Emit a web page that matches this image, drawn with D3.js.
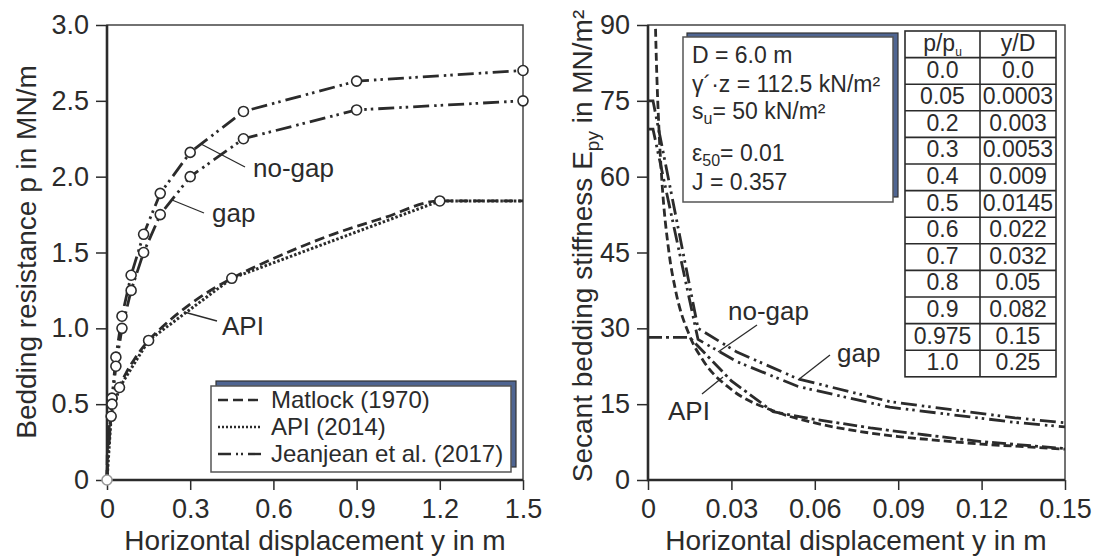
<!DOCTYPE html>
<html>
<head>
<meta charset="utf-8">
<script src="https://cdn.jsdelivr.net/npm/d3@7"></script>
<style>
  body { margin: 0; background: #fff; }
  svg text { font-family: "Liberation Sans", Arial, sans-serif; fill: #2b2b2b; }
</style>
</head>
<body>
<svg id="chart" width="1094" height="556"></svg>
<script>
// ---- data ----
// table shown in the right panel (Jeanjean et al. 2017)
const tableRatio = ["0.0", "0.05", "0.2", "0.3", "0.4", "0.5", "0.6", "0.7", "0.8", "0.9", "0.975", "1.0"];
const tableYD = ["0.0", "0.0003", "0.003", "0.0053", "0.009", "0.0145", "0.022", "0.032", "0.05", "0.082", "0.15", "0.25"];

// left panel: p-y curves (y in m, p in MN/m)
const jjY = [0, 0.0018, 0.018, 0.032, 0.054, 0.087, 0.132, 0.192, 0.3, 0.492, 0.9, 1.5];
const jjNoGapP = [0, 0.135, 0.54, 0.81, 1.08, 1.35, 1.62, 1.89, 2.16, 2.43, 2.63, 2.7];
const jjGapP = [0, 0.125, 0.5, 0.75, 1.0, 1.25, 1.5, 1.75, 2.0, 2.25, 2.44, 2.5];
const apiY = [0, 0.015, 0.045, 0.15, 0.45, 1.2, 1.5];
const apiP = [0, 0.42, 0.61, 0.92, 1.33, 1.84, 1.84];
const matlockY = [0, 0.001, 0.005, 0.01, 0.02, 0.04, 0.07, 0.1, 0.15, 0.2, 0.3, 0.45, 0.6, 0.8, 1.0, 1.2, 1.5];
const matlockP = [0, 0.17, 0.30, 0.37, 0.47, 0.59, 0.71, 0.80, 0.92, 1.01, 1.16, 1.33, 1.46, 1.61, 1.73, 1.84, 1.84];

// right panel: secant stiffness E_py (MN/m²)
const secJjY = [0, 0.0018, 0.018, 0.032, 0.054, 0.087, 0.132, 0.15];
const secJjNoGap = [75, 75, 30, 25.3, 20, 15.5, 12.3, 11.3];
const secJjGap = [69.4, 69.4, 27.8, 23.4, 18.5, 14.4, 11.4, 10.5];
const secApiY = [0, 0.015, 0.03, 0.045, 0.06, 0.08, 0.1, 0.12, 0.15];
const secApi = [28.2, 28.2, 19.6, 13.5, 12.0, 10.3, 8.9, 7.6, 6.2];
const secMatlockY = [0.0025, 0.003, 0.004, 0.005, 0.0075, 0.01, 0.015, 0.02, 0.03, 0.045, 0.06, 0.075, 0.09, 0.105, 0.12, 0.135, 0.15];
const secMatlock = [94, 83.2, 68.7, 59.2, 45.2, 37.3, 28.5, 23.5, 17.9, 13.7, 11.3, 9.7, 8.6, 7.8, 7.1, 6.6, 6.1];

const leftXTicks = [0, 0.3, 0.6, 0.9, 1.2, 1.5];
const leftYTicks = [0, 0.5, 1.0, 1.5, 2.0, 2.5, 3.0];
const rightXTicks = [0, 0.03, 0.06, 0.09, 0.12, 0.15];
const rightYTicks = [0, 15, 30, 45, 60, 75, 90];

const legendNames = ["Matlock (1970)", "API (2014)", "Jeanjean et al. (2017)"];

// ---- styles ----
const ink = "#2b2b2b";
const dashMatlock = "10,5";
const dashApi = "2.5,2";
const dashJj = "16,5,2.5,4,2.5,5";
const dashApiRight = "14,4,3,4";

const svg = d3.select("#chart");
svg.append("rect").attr("width", 1094).attr("height", 556).attr("fill", "#fff");

let x1 = d3.scaleLinear().domain([0, 1.5]).range([107, 523]);
let y1 = d3.scaleLinear().domain([0, 3]).range([480, 25]);
let x2 = d3.scaleLinear().domain([0, 0.15]).range([648, 1065]);
let y2 = d3.scaleLinear().domain([0, 90]).range([480, 25]);

function drawFrame(x, y, xTicks, yTicks, xFmt, yFmt) {
  let g = svg.append("g");
  let bottom = y.range()[0], top = y.range()[1];
  let left = x.range()[0], right = x.range()[1];

  let ax = g.append("g")
    .attr("transform", `translate(0, ${bottom})`)
    .call(d3.axisBottom(x).tickValues(xTicks).tickFormat(xFmt).tickSize(10).tickPadding(9));
  let ay = g.append("g")
    .attr("transform", `translate(${left}, 0)`)
    .call(d3.axisLeft(y).tickValues(yTicks).tickFormat(yFmt).tickSize(11).tickPadding(7));
  [ax, ay].forEach(function(a) {
    a.select(".domain").remove();
    a.selectAll(".tick line").attr("stroke", ink).attr("stroke-width", 1.5);
    a.selectAll(".tick text").style("font-size", "27px").attr("fill", ink);
  });

  // thin top/right, heavier left/bottom
  g.append("rect")
    .attr("x", left).attr("y", top)
    .attr("width", right - left).attr("height", bottom - top)
    .attr("fill", "none").attr("stroke", "#444").attr("stroke-width", 1.5);
  g.append("path")
    .attr("d", `M${left},${top}V${bottom}H${right}`)
    .attr("fill", "none").attr("stroke", ink).attr("stroke-width", 2.6);
}

let fmtLeft = function(d) { return d === 0 ? "0" : d3.format(".1f")(d); };
drawFrame(x1, y1, leftXTicks, leftYTicks, fmtLeft, fmtLeft);
drawFrame(x2, y2, rightXTicks, rightYTicks,
  function(d) { return d === 0 ? "0" : d3.format(".2f")(d); },
  d3.format("d"));

function addLine(g, xs, ys, x, y, dash, curve, width) {
  g.append("path")
    .datum(d3.zip(xs, ys))
    .attr("d", d3.line()
      .x(function(d) { return x(d[0]); })
      .y(function(d) { return y(d[1]); })
      .curve(curve || d3.curveLinear))
    .attr("fill", "none")
    .attr("stroke", ink)
    .attr("stroke-width", width || 2.8)
    .attr("stroke-dasharray", dash);
}

// ---- left panel ----
let leftG = svg.append("g");
addLine(leftG, matlockY, matlockP, x1, y1, dashMatlock, d3.curveMonotoneX);
addLine(leftG, apiY, apiP, x1, y1, dashApi, d3.curveLinear, 3);
addLine(leftG, jjY, jjNoGapP, x1, y1, dashJj);
addLine(leftG, jjY, jjGapP, x1, y1, dashJj);

// markers
function addMarkers(xs, ys, skip) {
  leftG.selectAll(null)
    .data(d3.zip(xs, ys).slice(skip))
    .enter().append("circle")
    .attr("cx", function(d) { return x1(d[0]); })
    .attr("cy", function(d) { return y1(d[1]); })
    .attr("r", 5)
    .attr("fill", "#fff")
    .attr("stroke", ink)
    .attr("stroke-width", 1.6);
}
addMarkers(jjY, jjNoGapP, 2);
addMarkers(jjY, jjGapP, 2);
addMarkers(apiY.slice(0, 6), apiP.slice(0, 6), 1);
leftG.append("circle")
  .attr("cx", x1(0)).attr("cy", y1(0)).attr("r", 5)
  .attr("fill", "#fff").attr("stroke", "#9a9a9a").attr("stroke-width", 1.6);

// annotations
function annotate(g, label, tx, ty, lx1, ly1, lx2, ly2) {
  g.append("line")
    .attr("x1", lx1).attr("y1", ly1).attr("x2", lx2).attr("y2", ly2)
    .attr("stroke", ink).attr("stroke-width", 1.3);
  g.append("text").attr("x", tx).attr("y", ty)
    .style("font-size", "26px").text(label);
}
annotate(leftG, "no-gap", 253, 177, 201, 144, 245, 167);
annotate(leftG, "gap", 212, 222, 172, 200, 204, 213);
annotate(leftG, "API", 222, 335, 184, 312, 217, 321);

// legend
let legend = svg.append("g");
legend.append("rect")
  .attr("x", 216).attr("y", 381).attr("width", 300).attr("height", 86)
  .attr("fill", "#4f6592").attr("stroke", "#333").attr("stroke-width", 1.2);
legend.append("rect")
  .attr("x", 211).attr("y", 386).attr("width", 300).attr("height", 86)
  .attr("fill", "#fff").attr("stroke", "#555").attr("stroke-width", 1.5);
let legendDash = [dashMatlock, "2,2", "13,5,2,3,2,5"];
legendNames.forEach(function(name, i) {
  let yy = 400 + i * 27;
  legend.append("line")
    .attr("x1", 218).attr("x2", 262).attr("y1", yy).attr("y2", yy)
    .attr("stroke", ink).attr("stroke-width", i === 1 ? 2.5 : 2.4)
    .attr("stroke-dasharray", legendDash[i]);
  legend.append("text")
    .attr("x", 271).attr("y", yy + 8)
    .style("font-size", "24px")
    .text(name);
});

// ---- right panel ----
svg.append("clipPath").attr("id", "clipR")
  .append("rect").attr("x", x2(0)).attr("y", y2(90))
  .attr("width", x2(0.15) - x2(0)).attr("height", y2(0) - y2(90));
let rightG = svg.append("g").attr("clip-path", "url(#clipR)");
addLine(rightG, secMatlockY, secMatlock, x2, y2, "8,4", d3.curveMonotoneX);
addLine(rightG, secApiY, secApi, x2, y2, dashApiRight);
addLine(rightG, secJjY, secJjNoGap, x2, y2, dashJj);
addLine(rightG, secJjY, secJjGap, x2, y2, dashJj);

let annR = svg.append("g");
annotate(annR, "no-gap", 728, 320, 757, 325, 718, 352);
annotate(annR, "gap", 837, 362, 830, 355, 798, 380);
annotate(annR, "API", 668, 420, 702, 394, 723, 377);

// info box
let info = svg.append("g");
info.append("rect")
  .attr("x", 687).attr("y", 33).attr("width", 211).attr("height", 164)
  .attr("fill", "#4f6592").attr("stroke", "#333").attr("stroke-width", 1.2);
info.append("rect")
  .attr("x", 683).attr("y", 37).attr("width", 210).attr("height", 165)
  .attr("fill", "#fff").attr("stroke", "#555").attr("stroke-width", 1.5);
let infoLines = [
  [["D = 6.0 m", 0]],
  [["\u03b3\u00b4\u00b7z = 112.5 kN/m\u00b2", 0]],
  [["s", 0], ["u", 1], ["= 50 kN/m\u00b2", 0]],
  [["\u03b5", 0], ["50", 1], ["= 0.01", 0]],
  [["J = 0.357", 0]]
];
let infoBase = [63, 92, 119, 161, 190];
infoLines.forEach(function(parts, i) {
  let t = info.append("text").attr("x", 692).attr("y", infoBase[i]).style("font-size", "23px");
  parts.forEach(function(p) {
    let s = t.append("tspan").text(p[0]);
    if (p[1]) s.attr("dy", 5).style("font-size", "16px");
    else if (parts.length > 1 && p !== parts[0]) s.attr("dy", -5);
  });
});

// table
let table = svg.append("g");
let colX = [905, 980, 1056];
let rowH = 26.6, tTop = 31;
let nRows = tableRatio.length + 1;
table.append("rect")
  .attr("x", colX[0]).attr("y", tTop)
  .attr("width", colX[2] - colX[0]).attr("height", rowH * nRows)
  .attr("fill", "#fff").attr("stroke", ink).attr("stroke-width", 1.6);
table.append("line")
  .attr("x1", colX[1]).attr("x2", colX[1])
  .attr("y1", tTop).attr("y2", tTop + rowH * nRows)
  .attr("stroke", ink).attr("stroke-width", 1.6);
d3.range(1, nRows).forEach(function(r) {
  table.append("line")
    .attr("x1", colX[0]).attr("x2", colX[2])
    .attr("y1", tTop + r * rowH).attr("y2", tTop + r * rowH)
    .attr("stroke", ink).attr("stroke-width", 1.6);
});
let head = table.append("text")
  .attr("x", (colX[0] + colX[1]) / 2).attr("y", tTop + 20)
  .attr("text-anchor", "middle").style("font-size", "23px");
head.append("tspan").text("p/p");
head.append("tspan").text("u").attr("dy", 5).style("font-size", "12px");
table.append("text")
  .attr("x", (colX[1] + colX[2]) / 2).attr("y", tTop + 20)
  .attr("text-anchor", "middle").style("font-size", "23px").text("y/D");
tableRatio.forEach(function(v, i) {
  let yy = tTop + (i + 1) * rowH + 20;
  table.append("text").attr("x", (colX[0] + colX[1]) / 2).attr("y", yy)
    .attr("text-anchor", "middle").style("font-size", "23px").text(v);
  table.append("text").attr("x", (colX[1] + colX[2]) / 2).attr("y", yy)
    .attr("text-anchor", "middle").style("font-size", "23px").text(tableYD[i]);
});

// ---- axis titles ----
svg.append("text")
  .attr("transform", "translate(36, 252) rotate(-90)")
  .attr("text-anchor", "middle").style("font-size", "28px")
  .text("Bedding resistance p in MN/m");
let rt = svg.append("text")
  .attr("transform", "translate(592, 246) rotate(-90)")
  .attr("text-anchor", "middle").style("font-size", "28px");
rt.append("tspan").text("Secant bedding stiffness E");
rt.append("tspan").text("py").attr("dy", 7).style("font-size", "19px");
rt.append("tspan").text(" in MN/m\u00b2").attr("dy", -7);

svg.append("text")
  .attr("x", 315).attr("y", 550)
  .attr("text-anchor", "middle").style("font-size", "28px")
  .text("Horizontal displacement y in m");
svg.append("text")
  .attr("x", 856).attr("y", 550)
  .attr("text-anchor", "middle").style("font-size", "28px")
  .text("Horizontal displacement y in m");
</script>
</body>
</html>
